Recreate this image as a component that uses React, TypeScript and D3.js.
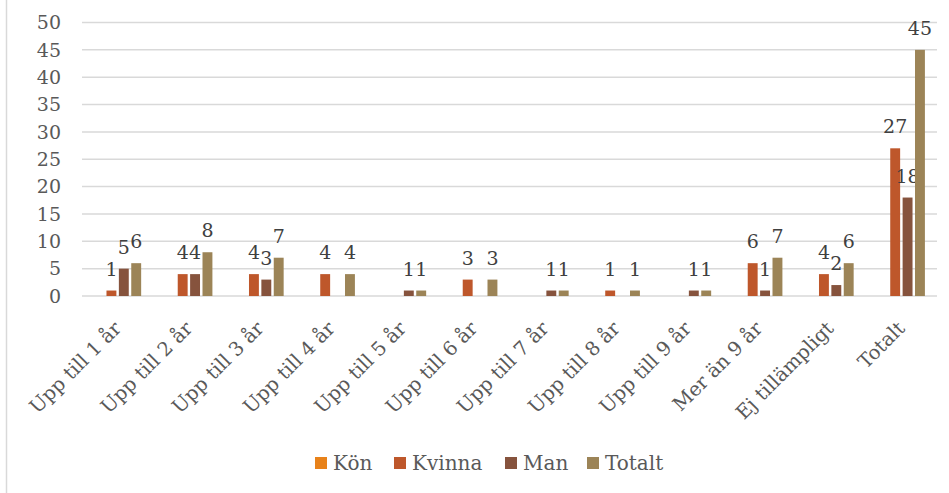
import React, { useRef, useEffect } from 'react';
import * as d3 from 'd3';

const categories = [
  'Upp till 1 år', 'Upp till 2 år', 'Upp till 3 år', 'Upp till 4 år', 'Upp till 5 år', 'Upp till 6 år',
  'Upp till 7 år', 'Upp till 8 år', 'Upp till 9 år', 'Mer än 9 år', 'Ej tillämpligt', 'Totalt',
];
const seriesNames = ['Kön', 'Kvinna', 'Man', 'Totalt'];
const seriesColors = ['#E8821A', '#BE572B', '#86533D', '#9C8457'];

const konValues: (number | null)[] = [null, null, null, null, null, null, null, null, null, null, null, null];
const kvinnaValues: (number | null)[] = [1, 4, 4, 4, null, 3, null, 1, null, 6, 4, 27];
const manValues: (number | null)[] = [5, 4, 3, null, 1, null, 1, null, 1, 1, 2, 18];
const totaltValues: (number | null)[] = [6, 8, 7, 4, 1, 3, 1, 1, 1, 7, 6, 45];

const yTicks = [0, 5, 10, 15, 20, 25, 30, 35, 40, 45, 50];

const W = 949;
const H = 493;
const FONT = "'DejaVu Serif', 'Liberation Serif', serif";

const App = () => {
  const ref = useRef<SVGSVGElement>(null);

  useEffect(() => {
    const svg = d3.select(ref.current);
    svg.selectAll('*').remove();

    const left = 82, right = 937, top = 22.5, bottom = 296;
    const values = [konValues, kvinnaValues, manValues, totaltValues];

    const x0 = d3.scaleBand().domain(categories).range([left, right]).paddingInner(0.27).paddingOuter(0.135);
    const x1 = d3.scaleBand().domain(seriesNames).range([0, x0.bandwidth()]).padding(0.2);
    const y = d3.scaleLinear().domain([0, 50]).range([bottom, top]);

    // chart border
    svg.append('line').attr('x1', 6.5).attr('x2', 6.5).attr('y1', 0).attr('y2', H)
      .attr('stroke', '#d9d9d9').attr('stroke-width', 1.5);

    // gridlines
    svg.append('g').selectAll('line').data(yTicks).enter().append('line')
      .attr('x1', left).attr('x2', right)
      .attr('y1', d => y(d)).attr('y2', d => y(d))
      .attr('stroke', '#d9d9d9').attr('stroke-width', 1.5);

    svg.append('g').selectAll('text').data(yTicks).enter().append('text')
      .attr('x', 61).attr('y', d => y(d)).attr('dy', '0.36em')
      .attr('text-anchor', 'end')
      .style('font-family', FONT).style('font-size', '19px').style('fill', '#595959')
      .text(d => d);

    // bars
    seriesNames.forEach((s, si) => {
      const g = svg.append('g');
      const pts = categories.map((c, i) => ({ c, v: values[si][i] })).filter(d => d.v != null);
      g.selectAll('rect').data(pts).enter().append('rect')
        .attr('x', d => (x0(d.c) as number) + (x1(s) as number))
        .attr('width', x1.bandwidth())
        .attr('y', d => y(d.v as number))
        .attr('height', d => bottom - y(d.v as number))
        .attr('fill', seriesColors[si]);
      g.selectAll('text').data(pts).enter().append('text')
        .attr('x', d => (x0(d.c) as number) + (x1(s) as number) + x1.bandwidth() / 2)
        .attr('y', d => y(d.v as number) - 15)
        .attr('text-anchor', 'middle')
        .style('font-family', FONT).style('font-size', '19px').style('fill', '#404040')
        .text(d => d.v as number);
    });

    // category labels
    svg.append('g').selectAll('text').data(categories).enter().append('text')
      .attr('transform', d => `translate(${(x0(d) as number) + x0.bandwidth() / 2 - 5}, 320) rotate(-45)`)
      .attr('text-anchor', 'end').attr('dy', '0.7em')
      .style('font-family', FONT).style('font-size', '19.5px').style('fill', '#595959')
      .text(d => d);

    // legend
    const legendX = [315, 394, 505, 587];
    const lg = svg.append('g');
    seriesNames.forEach((s, si) => {
      lg.append('rect').attr('x', legendX[si]).attr('y', 457).attr('width', 12).attr('height', 12)
        .attr('fill', seriesColors[si]);
      lg.append('text').attr('x', legendX[si] + 18).attr('y', 470)
        .style('font-family', FONT).style('font-size', '20px').style('fill', '#595959')
        .text(s);
    });
  }, []);

  return <svg ref={ref} width={W} height={H} style={{ position: 'absolute', left: 0, top: 0, background: '#fff' }} />;
};

export default App;
